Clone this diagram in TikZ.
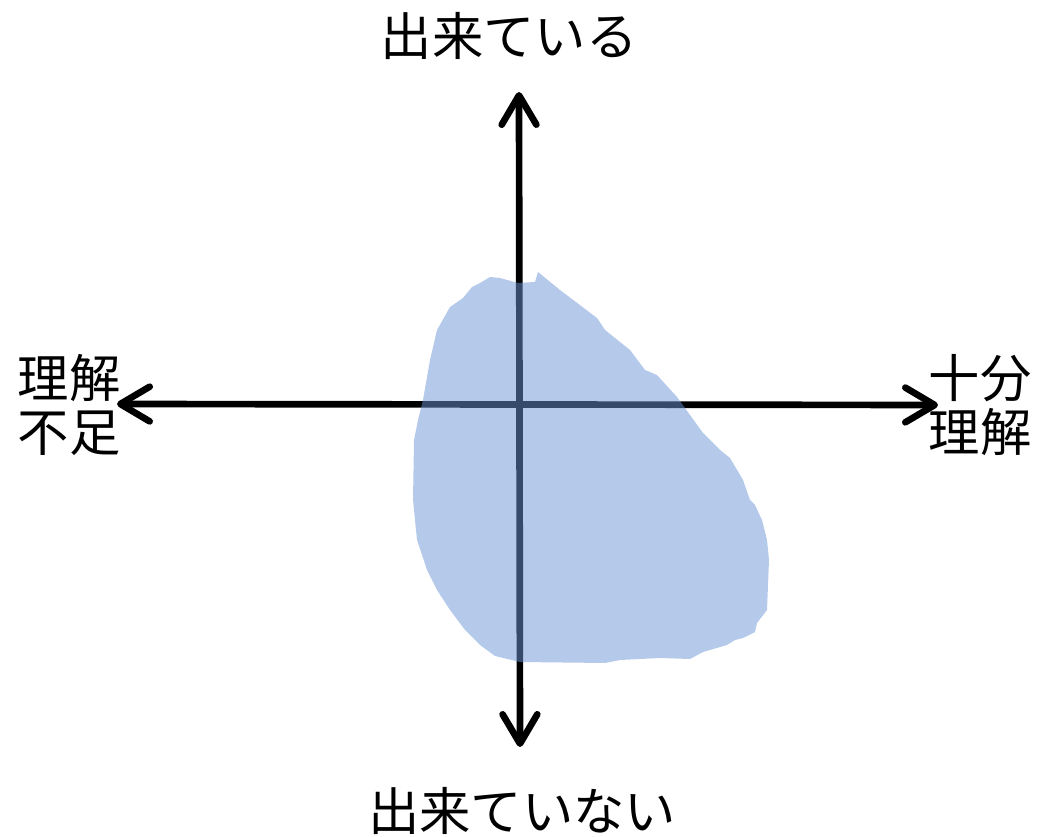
\documentclass[tikz,border=0pt]{standalone}
\usepackage{fontspec}
\setmainfont{Noto Sans CJK JP}
\usetikzlibrary{arrows.meta}
\definecolor{blobblue}{RGB}{108,150,216}
\tikzset{
  axis/.style={line width=5pt,{Straight Barb[length=22pt,width=26pt,line width=5pt,round]}-{Straight Barb[length=22pt,width=26pt,line width=5pt,round]}},
  lbl/.style={font=\fontsize{38.5}{41}\selectfont,inner sep=0pt,align=center},
  blob/.style={fill=blobblue,fill opacity=0.5,draw=none}
}
\begin{document}
\begin{tikzpicture}[x=0.75pt,y=-0.75pt]
\useasboundingbox (0,0) rectangle (1042,837);
\coordinate (top) at (519,92);
\coordinate (bot) at (520,747);
\coordinate (lft) at (117,404);
\coordinate (rgt) at (938,405);
\draw[axis] (top) -- (bot);
\draw[axis] (lft) -- (rgt);
\fill[blob] (423,400) -- (430,360) -- (437,330) -- (450,307) -- (463,298) -- (472,287) -- (480,283) -- (490,277) -- (500,278) -- (518,283) -- (535,282) -- (538,272) -- (560,290) -- (597,318) -- (605,330) -- (630,350) -- (645,370) -- (657,375) -- (677,397) -- (703,433) -- (720,450) -- (730,458) -- (743,480) -- (750,500) -- (755,505) -- (762,520) -- (767,540) -- (769,560) -- (767,610) -- (757,623) -- (755,632) -- (743,638) -- (735,640) -- (727,645) -- (703,652) -- (690,659) -- (660,658) -- (620,660) -- (605,663) -- (520,662) -- (495,656) -- (480,645) -- (465,630) -- (450,610) -- (437,590) -- (427,570) -- (417,540) -- (413,500) -- (414,440) -- (418,420) -- cycle;
\node[lbl] (up) at (509,36) {出来ている};
\node[lbl] (down) at (522,811) {出来ていない};
\node[lbl] (left) at (69,405) {理解\\不足};
\node[lbl] (right) at (980,405) {十分\\理解};
\end{tikzpicture}
\end{document}
